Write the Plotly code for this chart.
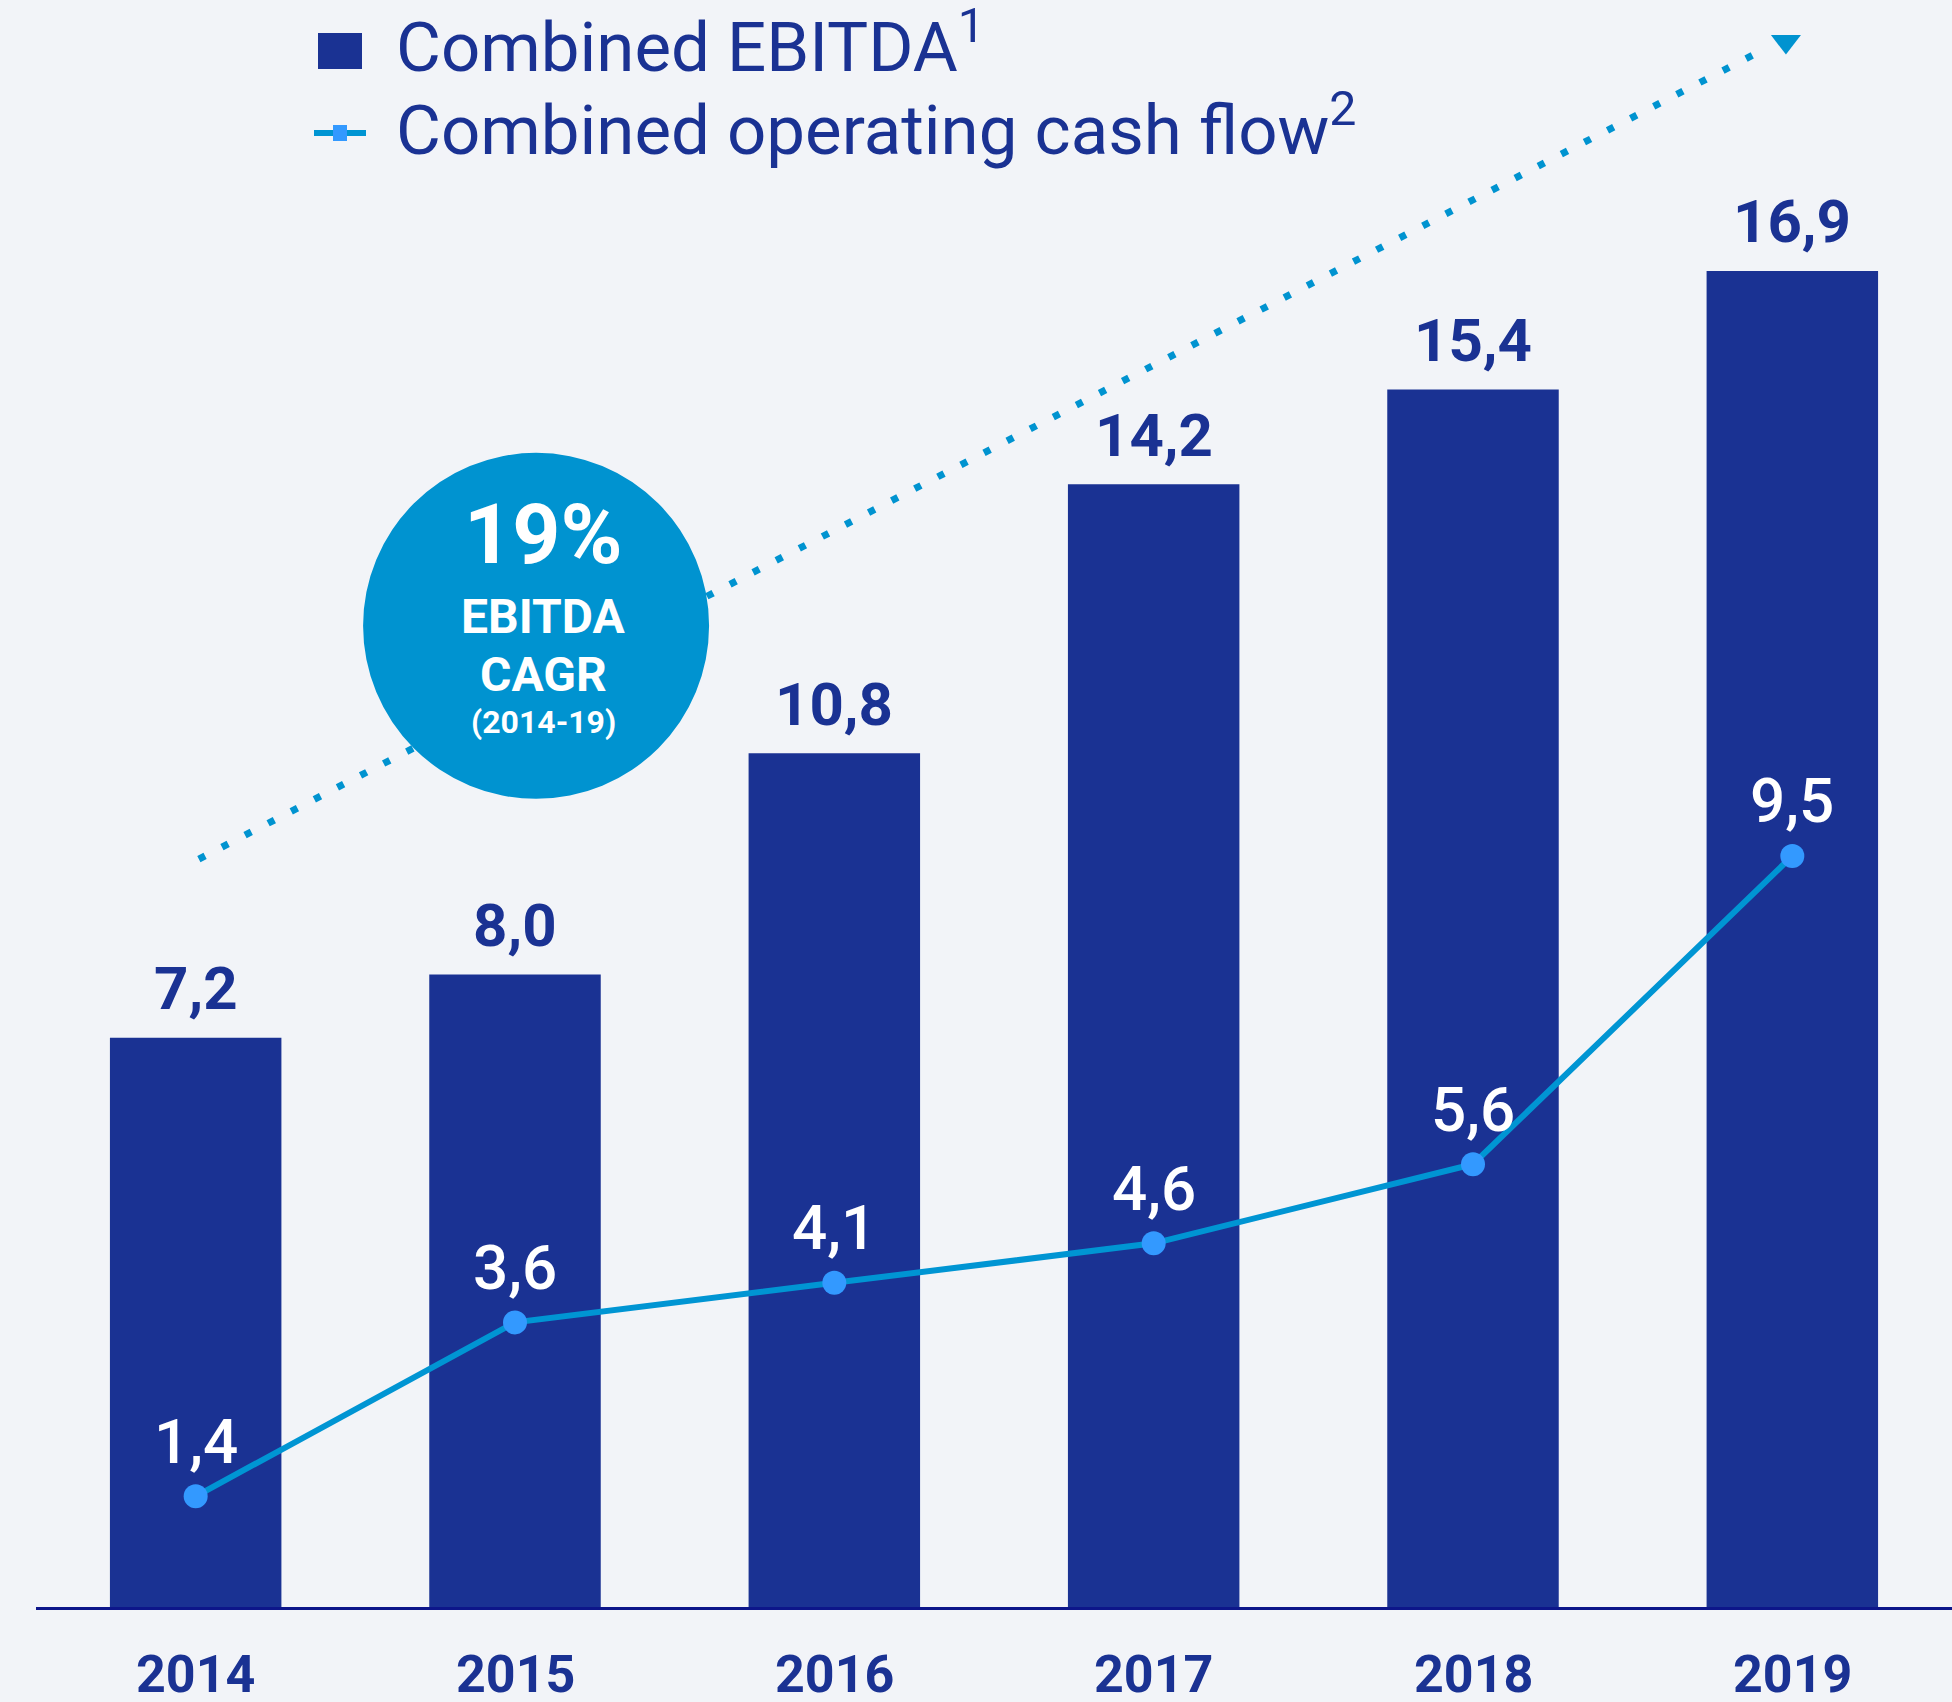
import plotly.graph_objects as go

# ---- data ----
years = ["2014", "2015", "2016", "2017", "2018", "2019"]
ebitda = [7.2, 8.0, 10.8, 14.2, 15.4, 16.9]
cash_flow = [1.4, 3.6, 4.1, 4.6, 5.6, 9.5]
ebitda_labels = ["7,2", "8,0", "10,8", "14,2", "15,4", "16,9"]
cash_labels = ["1,4", "3,6", "4,1", "4,6", "5,6", "9,5"]
legend_names = ["Combined EBITDA<sup>1</sup>", "Combined operating cash flow<sup>2</sup>"]
cagr_text = ["19%", "EBITDA", "CAGR", "(2014-19)"]
# decorative trend arrow (start, end) in axis units
trend_x = [0.01, 4.91]
trend_y = [9.46, 19.7]
arrow_x = [4.98]
arrow_y = [19.8]
cagr_center = (1.066, 12.41)

x_idx = list(range(len(years)))

BG = "#F2F4F8"
NAVY = "#1A3293"
AXIS = "#0D168A"
LINE = "#0095D3"
MARK = "#3399FF"
CIRCLE = "#0093D0"
FONT = "Roboto"

fig = go.Figure()

fig.add_trace(go.Bar(
    x=x_idx, y=ebitda, width=0.537, marker=dict(color=NAVY, line=dict(width=0)),
    name="Combined EBITDA", showlegend=False, hoverinfo="skip"))

fig.add_trace(go.Scatter(
    x=trend_x, y=trend_y, mode="lines",
    line=dict(color=CIRCLE, width=7, dash="7px,19px"),
    showlegend=False, hoverinfo="skip"))

fig.add_trace(go.Scatter(
    x=arrow_x, y=arrow_y, mode="markers",
    marker=dict(symbol="triangle-down", size=26, color=CIRCLE, line=dict(width=0)),
    showlegend=False, hoverinfo="skip"))

fig.add_trace(go.Scatter(
    x=x_idx, y=cash_flow, mode="lines+markers",
    line=dict(color=LINE, width=6),
    marker=dict(color=MARK, size=24, line=dict(width=0)),
    name="Combined operating cash flow", showlegend=False, hoverinfo="skip"))

annotations = []
for xi, v, t in zip(x_idx, ebitda, ebitda_labels):
    annotations.append(dict(x=xi, y=v, text=t, showarrow=False, yshift=49,
                            yanchor="middle", xanchor="center",
                            font=dict(family=FONT, size=60, color=NAVY, weight="bold")))
for xi, v, t in zip(x_idx, cash_flow, cash_labels):
    annotations.append(dict(x=xi, y=v, text=t, showarrow=False, yshift=55,
                            yanchor="middle", xanchor="center",
                            font=dict(family=FONT, size=62, color="white", weight=500)))
for xi, t in zip(x_idx, years):
    annotations.append(dict(x=xi, y=0, text=t, showarrow=False, yshift=-67,
                            yanchor="middle", xanchor="center",
                            font=dict(family=FONT, size=52, color=NAVY, weight="bold")))

# CAGR circle text
cx, cy = cagr_center
circ_specs = [(91, 84), (9, 48), (-49, 48), (-96, 32)]
for t, (dy, sz) in zip(cagr_text, circ_specs):
    annotations.append(dict(x=cx, y=cy, text=t, showarrow=False, yshift=dy, xshift=7,
                            yanchor="middle", xanchor="center",
                            font=dict(family=FONT, size=sz, color="white", weight="bold")))

# legend texts (paper pixel positions)
W, H = 1952, 1702
ml, mr, mt, mb = 36, 0, 0, 95
pw, ph = W - ml - mr, H - mt - mb
def px(xp):
    return (xp - ml) / pw
def py(yp):
    return 1 - (yp - mt) / ph

annotations.append(dict(xref="paper", yref="paper", x=px(394), y=py(42), text=legend_names[0],
                        showarrow=False, xanchor="left", yanchor="middle",
                        font=dict(family=FONT, size=69, color=NAVY)))
annotations.append(dict(xref="paper", yref="paper", x=px(394), y=py(125), text=legend_names[1],
                        showarrow=False, xanchor="left", yanchor="middle",
                        font=dict(family=FONT, size=69, color=NAVY)))

shapes = [
    dict(type="circle", xref="x", yref="y", xsizemode="pixel", ysizemode="pixel",
         xanchor=cx, yanchor=cy, x0=-173, x1=173, y0=-173, y1=173,
         fillcolor=CIRCLE, line=dict(width=0), layer="above"),
    dict(type="rect", xref="paper", yref="paper", x0=px(318), x1=px(362), y0=py(69), y1=py(33),
         fillcolor=NAVY, line=dict(width=0)),
    dict(type="line", xref="paper", yref="paper", x0=px(314), x1=px(366), y0=py(133), y1=py(133),
         line=dict(color=LINE, width=6)),
    dict(type="rect", xref="paper", yref="paper", x0=px(333), x1=px(347), y0=py(141), y1=py(125),
         fillcolor=MARK, line=dict(width=0)),
]

fig.update_layout(
    width=W, height=H,
    margin=dict(l=ml, r=mr, t=mt, b=mb),
    paper_bgcolor=BG, plot_bgcolor=BG,
    showlegend=False,
    annotations=annotations, shapes=shapes,
    xaxis=dict(range=[-0.5, 5.5], showgrid=False, zeroline=False, showticklabels=False,
               showline=True, linecolor=AXIS, linewidth=3, fixedrange=True),
    yaxis=dict(range=[0, 1607 / 79.06], showgrid=False, zeroline=False, visible=False,
               fixedrange=True),
)

fig.write_html(
    "out.html",
    config={"displayModeBar": False},
    post_script="document.body.style.margin='0';document.body.style.padding='0';"
                "document.body.style.background='#F2F4F8';document.body.style.overflow='hidden';",
)
